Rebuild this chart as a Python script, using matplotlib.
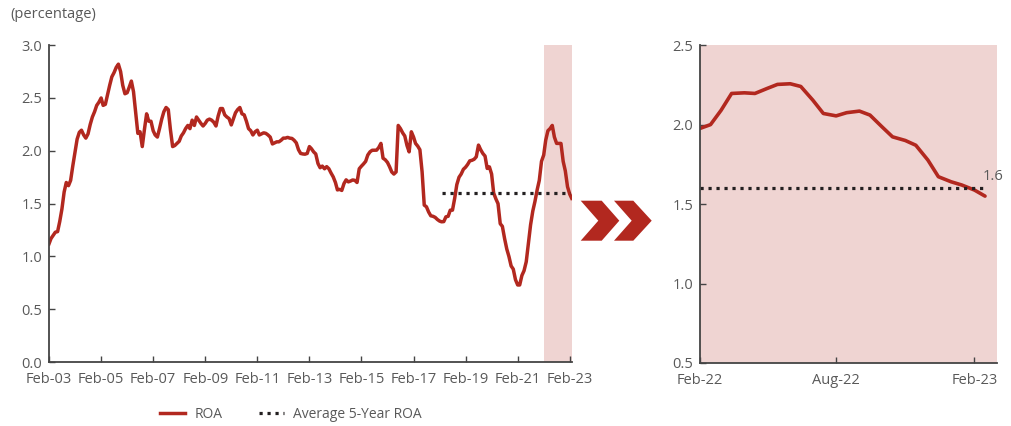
import matplotlib
matplotlib.use('Agg')
import matplotlib.pyplot as plt
import matplotlib.dates as mdates
from matplotlib.lines import Line2D
from matplotlib.patches import Polygon
from matplotlib.ticker import FormatStrFormatter
import numpy as np
import pandas as pd

plt.rcParams['font.family'] = ['Open Sans', 'DejaVu Sans']

# ROA (%), monthly from Feb-03 to Mar-23
roa_monthly = [
    1.12, 1.17, 1.20, 1.23, 1.235, 1.33, 1.45, 1.61, 1.70, 1.67, 1.72, 1.86,
    1.99, 2.11, 2.175, 2.195, 2.15, 2.12, 2.16, 2.25, 2.32, 2.37, 2.43, 2.46,
    2.50, 2.43, 2.44, 2.53, 2.62, 2.70, 2.74, 2.79, 2.82, 2.75, 2.62, 2.54,
    2.55, 2.60, 2.66, 2.56, 2.36, 2.165, 2.18, 2.04, 2.20, 2.35, 2.28, 2.28,
    2.19, 2.15, 2.13, 2.21, 2.30, 2.37, 2.41, 2.39, 2.20, 2.04, 2.05, 2.07,
    2.09, 2.14, 2.17, 2.21, 2.24, 2.21, 2.29, 2.24, 2.32, 2.29, 2.26, 2.235,
    2.26, 2.29, 2.30, 2.29, 2.27, 2.235, 2.33, 2.40, 2.40, 2.34, 2.32, 2.305,
    2.245, 2.30, 2.36, 2.39, 2.41, 2.35, 2.34, 2.28, 2.21, 2.19, 2.15, 2.18,
    2.195, 2.15, 2.16, 2.17, 2.165, 2.15, 2.13, 2.065, 2.075, 2.085, 2.085, 2.10,
    2.12, 2.12, 2.127, 2.12, 2.117, 2.10, 2.075, 2.01, 1.975, 1.97, 1.968, 1.975,
    2.04, 2.02, 1.99, 1.97, 1.88, 1.84, 1.855, 1.83, 1.85, 1.83, 1.79, 1.753,
    1.70, 1.63, 1.635, 1.625, 1.69, 1.725, 1.706, 1.714, 1.724, 1.72, 1.70, 1.83,
    1.855, 1.875, 1.90, 1.96, 1.99, 2.005, 2.006, 2.006, 2.03, 2.07, 1.93, 1.915,
    1.89, 1.85, 1.80, 1.78, 1.80, 2.24, 2.21, 2.17, 2.14, 2.05, 1.99, 2.18,
    2.13, 2.07, 2.044, 2.01, 1.80, 1.486, 1.47, 1.42, 1.385, 1.38, 1.37, 1.35,
    1.335, 1.328, 1.33, 1.375, 1.38, 1.438, 1.438, 1.55, 1.68, 1.75, 1.78, 1.825,
    1.845, 1.87, 1.905, 1.91, 1.92, 1.943, 2.054, 2.01, 1.975, 1.95, 1.833, 1.848,
    1.78, 1.60, 1.545, 1.50, 1.31, 1.285, 1.17, 1.07, 1.00, 0.91, 0.88, 0.78,
    0.73, 0.73, 0.82, 0.865, 0.95, 1.12, 1.30, 1.43, 1.52, 1.63, 1.72, 1.90,
    1.96, 2.10, 2.19, 2.21, 2.24, 2.13, 2.07, 2.07, 2.07, 1.90, 1.81, 1.66,
    1.59, 1.55,
]
months = pd.date_range('2003-02-01', periods=len(roa_monthly), freq='MS')

# ROA (%), half-monthly over the last year
roa_recent = [
    1.976, 2.00, 2.09, 2.196, 2.20, 2.196, 2.227, 2.253, 2.257, 2.24,
    2.154, 2.07, 2.055, 2.075, 2.085, 2.06, 1.986, 1.923, 1.90, 1.87,
    1.777, 1.672, 1.64, 1.62, 1.588, 1.55,
]
recent_dates = pd.date_range('2022-02-01', periods=len(roa_recent), freq='SMS')

avg_5y = 1.6
avg_start = pd.Timestamp('2018-03-01')
avg_end = pd.Timestamp('2023-02-01')

RED = '#B2281F'
PINK = '#EFD4D2'
DOT = '#231F20'
GREY = '#595959'
SPINE = '#444444'
FS = 10.5
DOTS = (0, (1, 1.5))

fig = plt.figure(figsize=(10.11, 4.26), dpi=100)


def style_axes(ax):
    for s in ('top', 'right'):
        ax.spines[s].set_visible(False)
    for s in ('left', 'bottom'):
        ax.spines[s].set_color(SPINE)
        ax.spines[s].set_linewidth(1.3)
    ax.tick_params(direction='in', length=4, width=1, color=SPINE,
                   labelcolor=GREY, labelsize=FS)
    ax.tick_params(axis='x', pad=7)
    ax.tick_params(axis='y', pad=5)
    ax.xaxis.set_major_formatter(mdates.DateFormatter('%b-%y'))
    ax.yaxis.set_major_formatter(FormatStrFormatter('%.1f'))


# long history
ax1 = fig.add_axes([0.0485, 0.150, 0.517, 0.744])
ax1.axvspan(pd.Timestamp('2022-02-01'), pd.Timestamp('2023-03-01'), color=PINK, lw=0)
ax1.plot(months, roa_monthly, color=RED, lw=2.5, solid_joinstyle='round')
ax1.plot([avg_start, avg_end], [avg_5y, avg_5y], color=DOT, lw=2.3,
         linestyle=DOTS, dash_capstyle='butt')
ax1.set_xlim(pd.Timestamp('2003-02-01'), pd.Timestamp('2023-03-01'))
ax1.set_ylim(0, 3)
ax1.set_xticks(pd.date_range('2003-02-01', '2023-02-01', freq='24MS'))
ax1.set_yticks(np.arange(0, 3.01, 0.5))
style_axes(ax1)

# last twelve months
ax2 = fig.add_axes([0.6924, 0.148, 0.2938, 0.746])
ax2.set_facecolor(PINK)
ax2.plot(recent_dates, roa_recent, color=RED, lw=2.6, solid_joinstyle='round',
         solid_capstyle='round')
ax2.plot([recent_dates[0], recent_dates[-1]], [avg_5y, avg_5y], color=DOT, lw=2.3,
         linestyle=DOTS, dash_capstyle='butt')
ax2.annotate(f'{avg_5y:.1f}', (recent_dates[-1], avg_5y), xytext=(6, 3),
             textcoords='offset points', ha='center', va='bottom',
             fontsize=FS, color=GREY)
ax2.set_xlim(pd.Timestamp('2022-02-01'), pd.Timestamp('2023-03-03'))
ax2.set_ylim(0.5, 2.5)
ax2.set_xticks(pd.to_datetime(['2022-02-01', '2022-08-01', '2023-02-01']))
ax2.set_yticks(np.arange(0.5, 2.51, 0.5))
style_axes(ax2)

fig.text(10 / 1011, 1 - 15 / 426, '(percentage)', fontsize=FS, color=GREY,
         va='center', ha='left')

# double chevron between the panels
W, H = 1011, 426
chevrons = [
    [(580.7, 200.7), (601.7, 200.7), (619.3, 220.7), (601.7, 240.7),
     (580.7, 240.7), (598.3, 220.7)],
    [(614.0, 200.7), (633.3, 200.7), (651.7, 220.7), (633.3, 240.7),
     (614.0, 240.7), (631.7, 220.7)],
]
for pts in chevrons:
    xy = [(x / W, 1 - y / H) for x, y in pts]
    fig.patches.append(Polygon(xy, closed=True, transform=fig.transFigure,
                               facecolor=RED, edgecolor='none'))

handles = [
    Line2D([], [], color=RED, lw=2.5),
    Line2D([], [], color=DOT, lw=2.3, linestyle=DOTS, dash_capstyle='butt'),
]
leg = fig.legend(handles, ['ROA', 'Average 5-Year ROA'], loc='center',
                 bbox_to_anchor=(291 / W, 1 - 414 / H), ncol=2, frameon=False,
                 fontsize=10, handlelength=1.8, handletextpad=0.7,
                 columnspacing=2.6)
for t in leg.get_texts():
    t.set_color(GREY)

fig.savefig('out.png', dpi=100)
